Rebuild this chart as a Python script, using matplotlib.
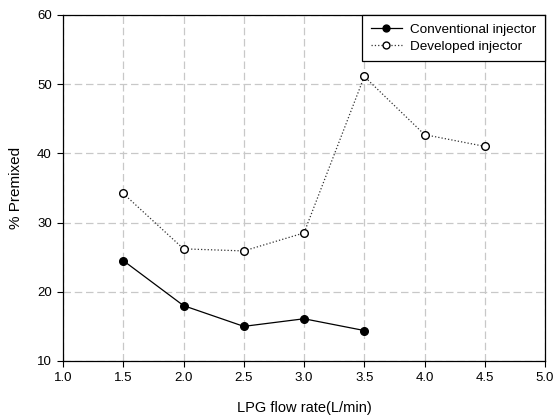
import matplotlib
matplotlib.use("Agg")
import matplotlib.pyplot as plt

flow_conv = [1.5, 2.0, 2.5, 3.0, 3.5]
premix_conv = [24.5, 18.0, 15.0, 16.1, 14.4]

flow_dev = [1.5, 2.0, 2.5, 3.0, 3.5, 4.0, 4.5]
premix_dev = [34.2, 26.2, 25.9, 28.5, 51.1, 42.7, 41.0]

xticks = [1.0, 1.5, 2.0, 2.5, 3.0, 3.5, 4.0, 4.5, 5.0]
yticks = [10, 20, 30, 40, 50, 60]

plt.rcParams.update({
    "font.family": ["Liberation Sans", "DejaVu Sans"],
    "font.size": 9.5,
})

fig = plt.figure(figsize=(5.56, 4.18), dpi=100)
ax = fig.add_axes([0.1133, 0.1364, 0.867, 0.828])

ax.plot(flow_conv, premix_conv, color="black", linewidth=0.9, marker="o",
        markersize=5.5, markerfacecolor="black", markeredgecolor="black",
        label="Conventional injector", zorder=3)
ax.plot(flow_dev, premix_dev, color="#333333", linewidth=0.9, linestyle=":",
        marker="o", markersize=5.5, markerfacecolor="white",
        markeredgecolor="black", label="Developed injector", zorder=3)

ax.set_xlim(1.0, 5.0)
ax.set_ylim(10, 60)
ax.set_xticks(xticks)
ax.set_xticklabels([f"{v:.1f}" for v in xticks])
ax.set_yticks(yticks)
ax.tick_params(direction="out", length=4, width=0.8, labelsize=9.5, pad=4)

ax.grid(True, color="#c8c8c8", linestyle=(0, (6, 3)), linewidth=0.9)
ax.set_axisbelow(True)
for s in ax.spines.values():
    s.set_linewidth(0.9)
    s.set_color("black")

ax.set_xlabel("LPG flow rate(L/min)", fontsize=10.5, labelpad=12)
ax.set_ylabel("% Premixed", fontsize=11, labelpad=10)

leg = ax.legend(loc="upper right", borderaxespad=0, fancybox=False,
                framealpha=1, edgecolor="black", fontsize=9.7,
                handlelength=2.3, borderpad=0.65, labelspacing=0.3,
                handletextpad=0.6, markerscale=0.9)
leg.get_frame().set_linewidth(0.9)

fig.savefig("out.png", dpi=100)
